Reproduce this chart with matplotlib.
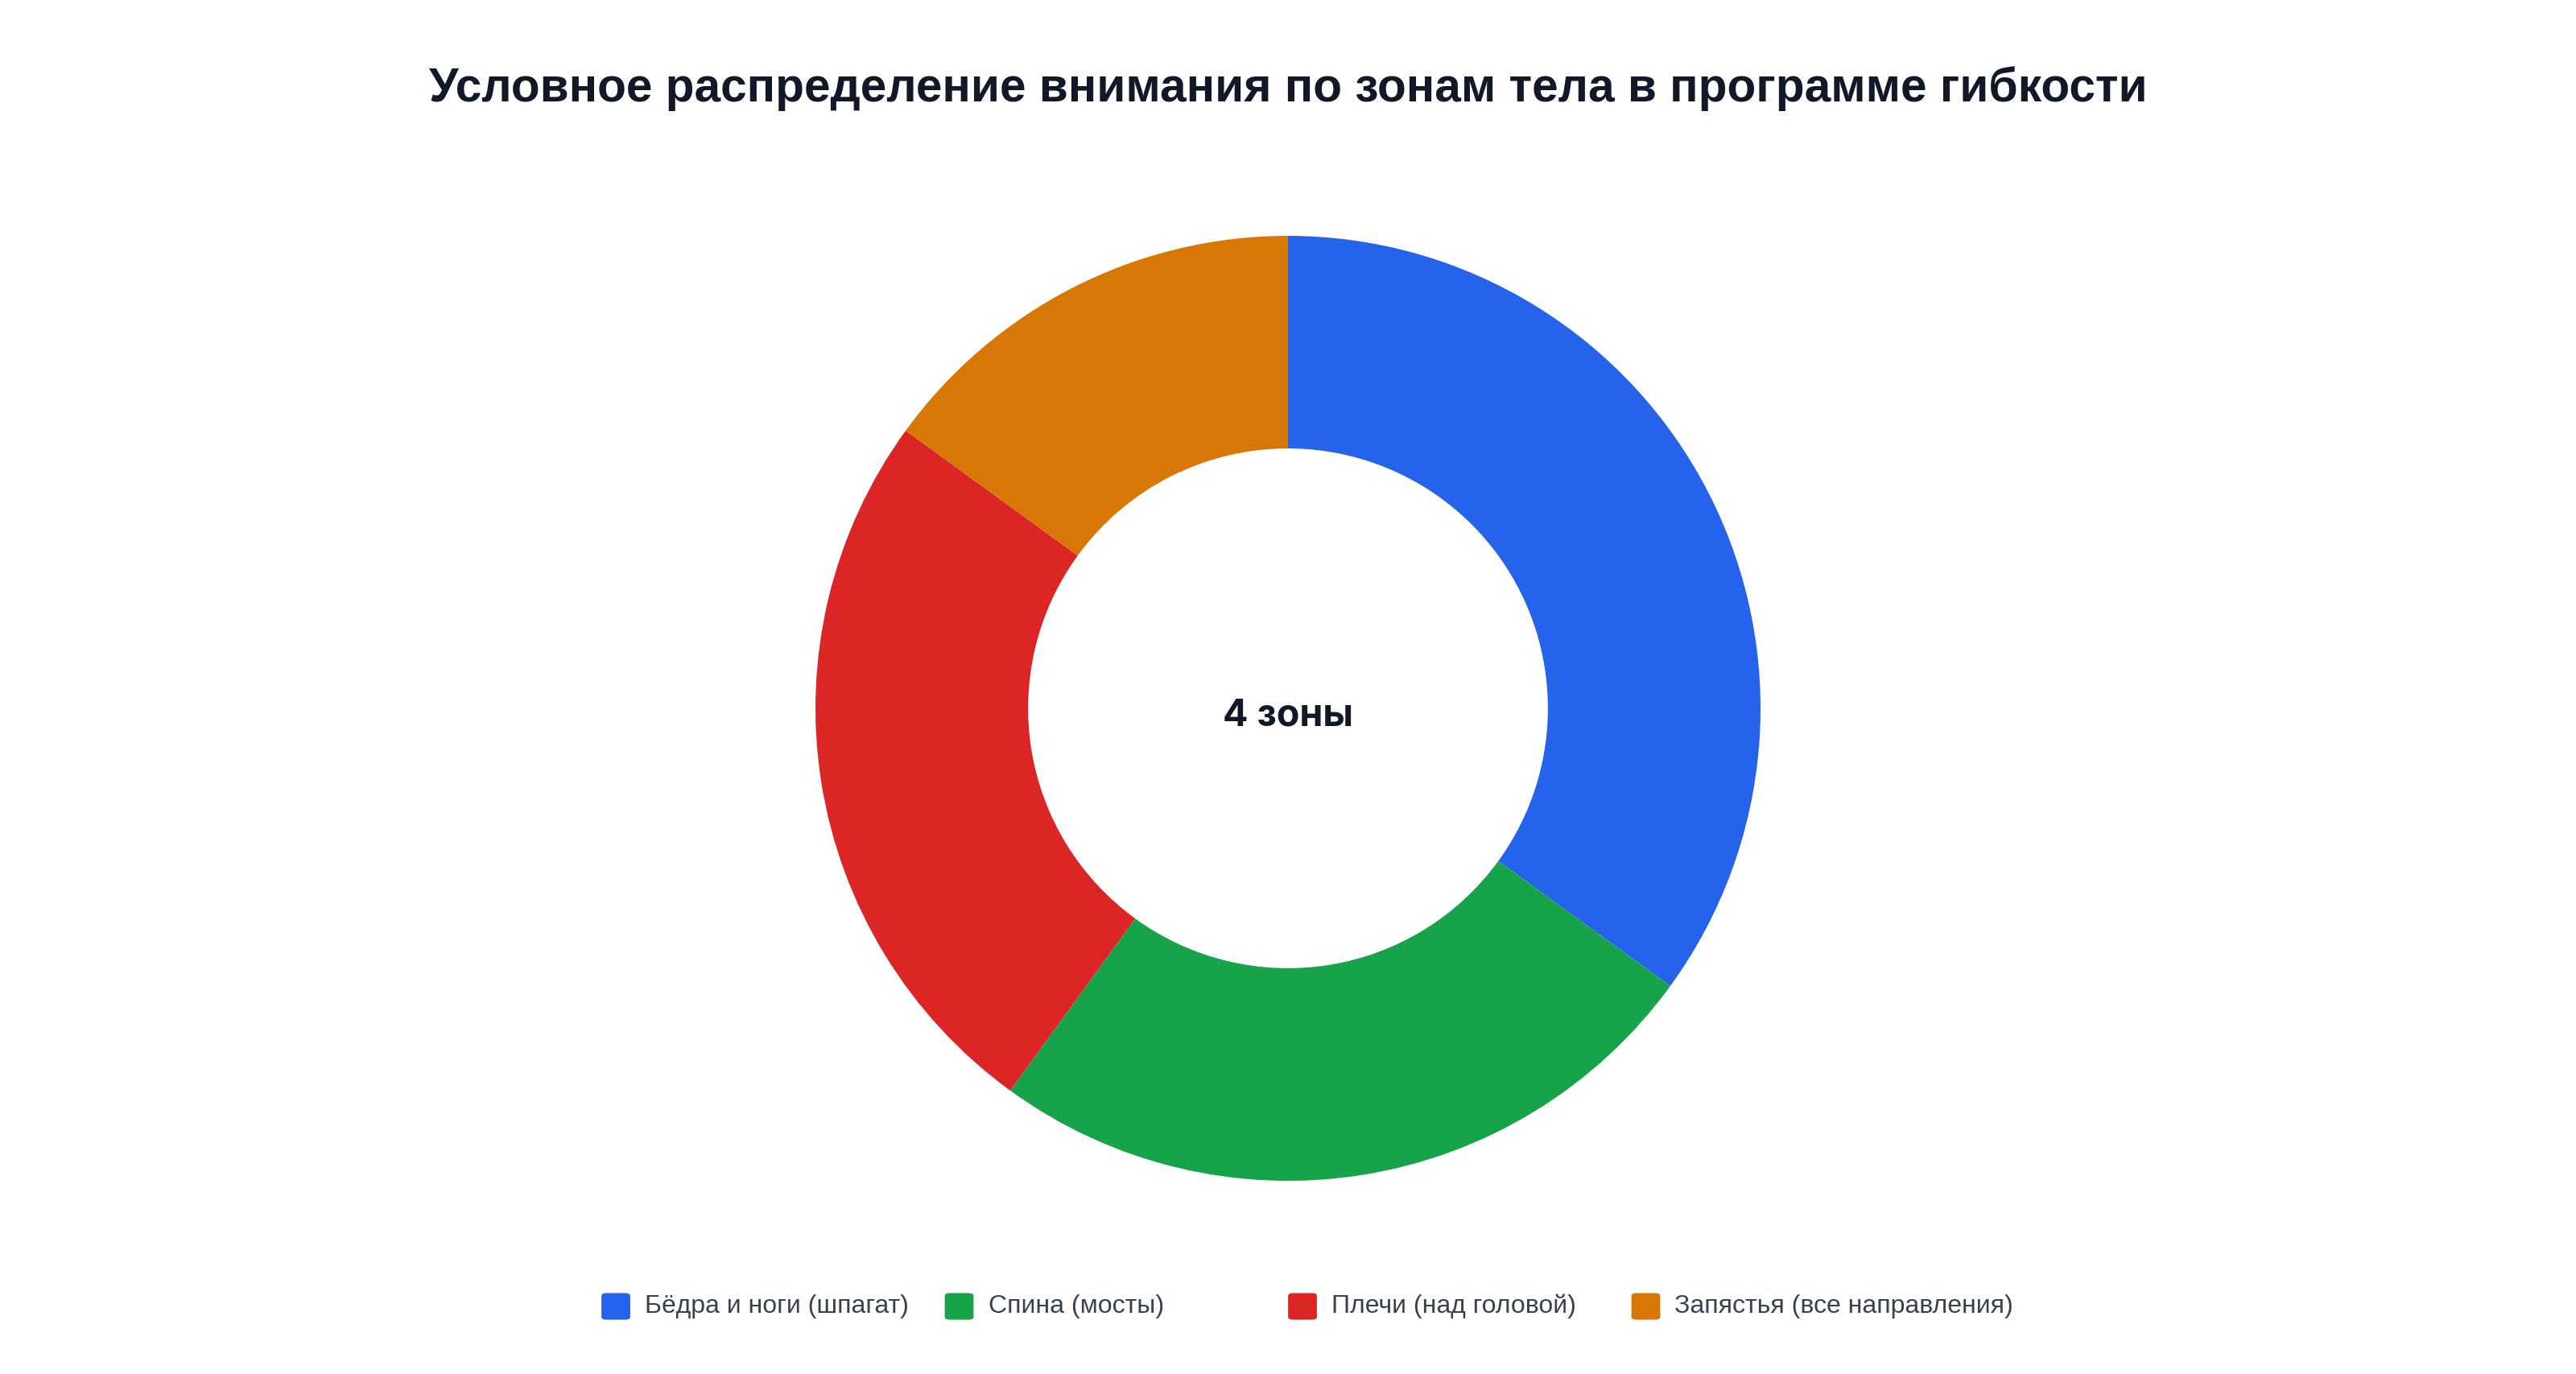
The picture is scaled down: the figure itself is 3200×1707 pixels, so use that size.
import matplotlib
matplotlib.use("Agg")
import matplotlib.pyplot as plt
from matplotlib.patches import FancyBboxPatch

categories = ["Бёдра и ноги (шпагат)", "Спина (мосты)", "Плечи (над головой)", "Запястья (все направления)"]
values = [35, 25, 25, 15]
colors = ["#2563EB", "#16A34A", "#DC2626", "#D97706"]
title = "Условное распределение внимания по зонам тела в программе гибкости"
center_label = "4 зоны"

W, H = 3200, 1707
fig = plt.figure(figsize=(W / 200, H / 200), dpi=200)
fig.patch.set_facecolor("white")

cx, cy, R = 1600, 880, 587
ax = fig.add_axes([(cx - R) / W, (H - cy - R) / H, 2 * R / W, 2 * R / H])
ax.pie(values, colors=colors, startangle=90, counterclock=False, radius=1,
       wedgeprops=dict(width=0.45, edgecolor="none", linewidth=0))
ax.set_xlim(-1, 1)
ax.set_ylim(-1, 1)
ax.set_aspect("equal")
ax.axis("off")
ax.text(0, -0.017, center_label, ha="center", va="center", fontsize=16.8,
        fontweight="bold", family=["Inter", "DejaVu Sans"], color="#111827")

fig.text(0.5, 1 - 110 / H, title, ha="center", va="center", fontsize=21.1,
         fontweight="bold", family=["Liberation Sans", "DejaVu Sans"], color="#111827")

# legend
ly = 1623
sq = 36
for i, (lab, col) in enumerate(zip(categories, colors)):
    x = 765 + i * 426.5
    p = FancyBboxPatch(((x - sq / 2 + 3) / W, (H - ly - sq / 2 + 3) / H),
                       (sq - 6) / W, (sq - 6) / H,
                       boxstyle="round,pad=0.0009,rounding_size=0.002",
                       transform=fig.transFigure, facecolor=col, edgecolor="none")
    fig.patches.append(p)
    fig.text((x + 36) / W, 1 - ly / H, lab, ha="left", va="center", fontsize=11.5,
             family=["Liberation Sans", "DejaVu Sans"], color="#374151")

fig.savefig("out.png", dpi=200, facecolor="white")
